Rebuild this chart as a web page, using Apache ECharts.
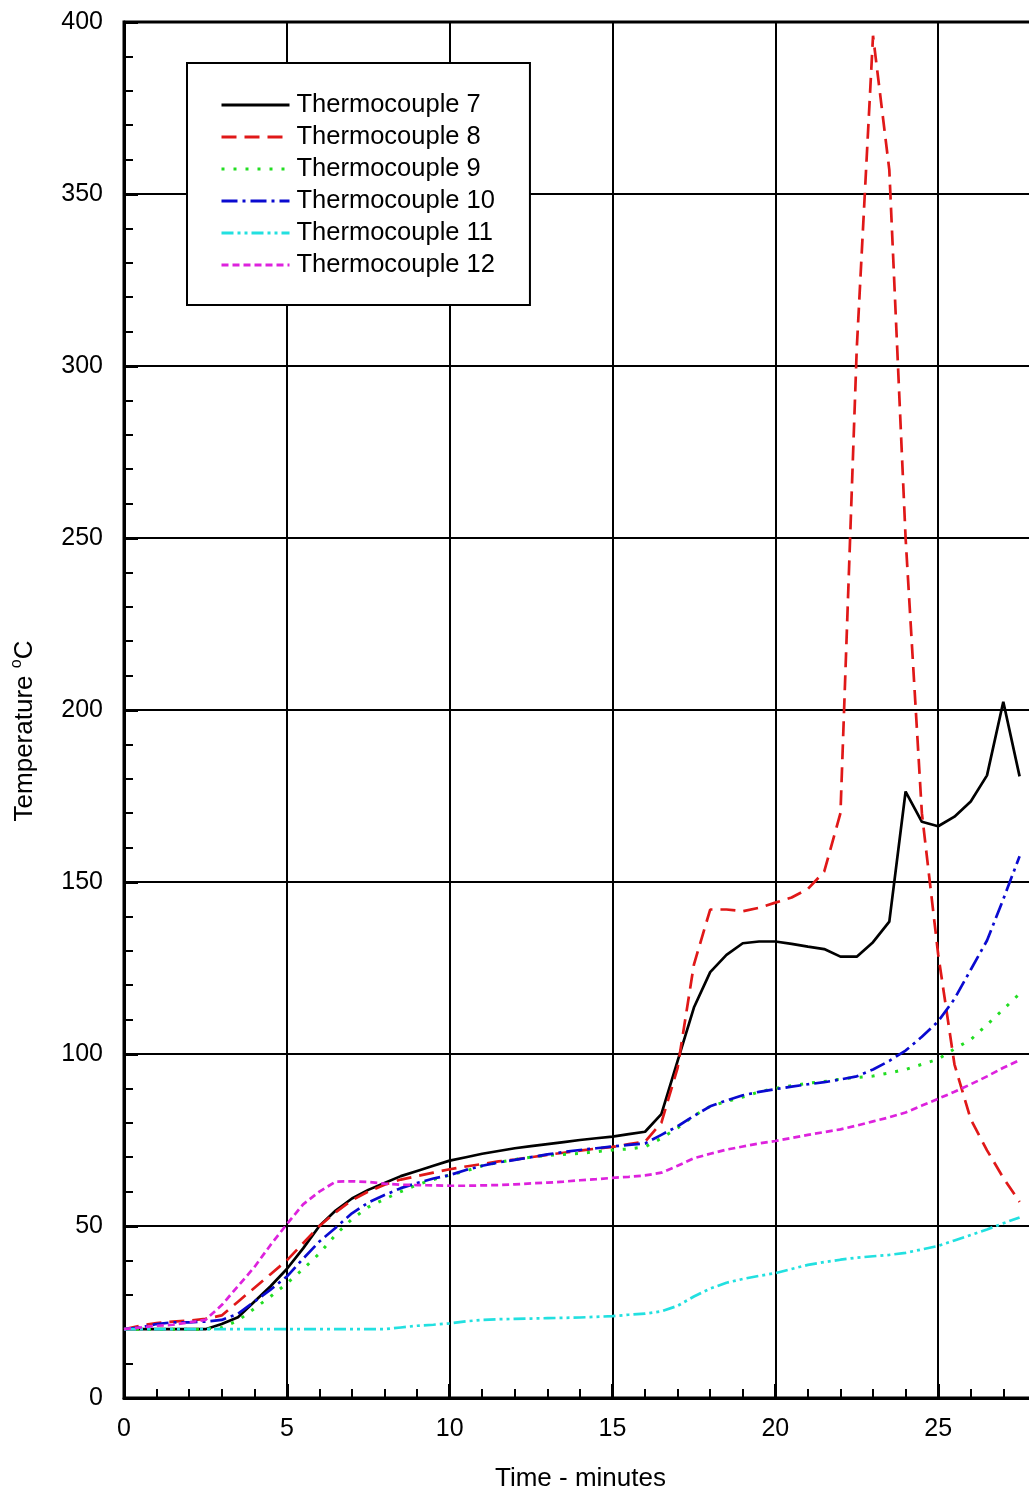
<!DOCTYPE html>
<html>
<head>
<meta charset="utf-8">
<script src="https://cdn.jsdelivr.net/npm/echarts@6/dist/echarts.min.js"></script>
<style>
  html, body { margin: 0; padding: 0; background: #fff; }
  #chart { width: 1029px; height: 1494px; }
</style>
</head>
<body>
<div id="chart"></div>
<script>
// Time in minutes (sample times)
const time = [0, 0.5, 1, 1.5, 2, 2.5, 3, 3.5, 4, 4.5, 5, 5.5, 6, 6.5, 7, 7.5, 8, 8.5, 9, 9.5,
  10, 10.5, 11, 11.5, 12, 12.5, 13, 13.5, 14, 14.5, 15, 15.5, 16, 16.5, 17, 17.5, 18, 18.5, 19, 19.5,
  20, 20.5, 21, 21.5, 22, 22.5, 23, 23.5, 24, 24.5, 25, 25.5, 26, 26.5, 27, 27.5];

const tc7 = [20, 20, 20, 20, 20, 20, 21.5, 23.5, 28, 32.5, 37.5, 43.5, 50, 54.5, 58, 60.5, 62.5, 64.5, 66, 67.5,
  69, 70, 71, 71.8, 72.6, 73.2, 73.8, 74.4, 75, 75.5, 76, 76.7, 77.4, 82.5, 98, 113.5, 123.8, 128.8, 132.2, 132.7,
  132.7, 132, 131.2, 130.5, 128.3, 128.3, 132.5, 138.5, 176.3, 167.5, 166.2, 169, 173.4, 181, 202.4, 180.7];

const tc8 = [20, 21, 21.8, 22.2, 22.5, 23, 24, 28, 32, 36, 40, 45, 50, 54, 57.5, 60, 62, 63.5, 64.5, 65.5,
  66.5, 67.3, 68, 68.8, 69.3, 70, 70.7, 71.3, 71.9, 72.5, 73, 73.8, 74.5, 80, 96, 126, 142, 142, 141.5, 142.5,
  144, 145.5, 148, 153, 170, 305, 396, 357, 250, 170, 129, 97, 81, 72, 64, 57];

const tc9 = [20, 20, 20, 20, 20, 20, 20.5, 22.5, 26, 29.5, 33.3, 37.5, 42, 47.5, 52, 55.5, 57.8, 60, 62, 63.5,
  64.8, 66, 67.5, 68.5, 69.3, 70, 70.5, 70.8, 71.1, 71.6, 72.1, 72.4, 73, 75.5, 78.5, 82, 84.8, 86.2, 87.5, 89,
  90, 90.8, 91.5, 92, 92.7, 93.2, 93.6, 94.5, 95.5, 97, 98.5, 101.5, 104.2, 108.5, 113, 117.5];

const tc10 = [20, 20.5, 21.5, 22, 22, 22.2, 22.7, 24.5, 28, 31.5, 35.3, 40.5, 45.5, 49.5, 53.7, 56.8, 59, 61, 62.5, 63.8,
  64.8, 66.3, 67.5, 68.5, 69.2, 70, 70.8, 71.5, 72.1, 72.6, 73.1, 73.6, 74, 76.5, 79, 82, 84.8, 86.5, 88, 89,
  89.8, 90.5, 91.2, 91.8, 92.6, 93.5, 95.5, 98, 101, 105, 109.5, 116, 124.5, 133, 145, 157.5];

const tc11 = [20, 20, 20, 20, 20, 20, 20, 20, 20, 20, 20, 20, 20, 20, 20, 20, 20, 20.5, 21, 21.3,
  21.7, 22.3, 22.7, 22.9, 23, 23.1, 23.2, 23.3, 23.4, 23.6, 23.8, 24.2, 24.5, 25.2, 26.8, 29.5, 31.8, 33.5, 34.6, 35.5,
  36.3, 37.5, 38.7, 39.5, 40.2, 40.8, 41.2, 41.6, 42.2, 43.2, 44.2, 45.8, 47.4, 49, 50.8, 52.5];

const tc12 = [20, 20.5, 21, 21.3, 22, 22.7, 27, 32.5, 38, 44.5, 50.5, 56.3, 60, 62.9, 63, 62.8, 62.3, 62, 61.9, 61.8,
  61.7, 61.7, 61.8, 61.9, 62.1, 62.4, 62.6, 62.9, 63.3, 63.6, 64, 64.3, 64.7, 65.5, 67.5, 69.7, 71, 72.2, 73.1, 74,
  74.7, 75.6, 76.5, 77.3, 78.1, 79.2, 80.4, 81.6, 83, 85, 87, 89, 91.2, 93.5, 96, 98.2];

const seriesNames = ['Thermocouple 7', 'Thermocouple 8', 'Thermocouple 9', 'Thermocouple 10', 'Thermocouple 11', 'Thermocouple 12'];
const seriesValues = [tc7, tc8, tc9, tc10, tc11, tc12];
const seriesColors = ['#000000', '#e01818', '#22dd22', '#0a0ad0', '#22e0e0', '#dd22dd'];
const seriesDash = ['solid', [15, 8], [3, 9], [16, 5, 3, 5], [12, 4, 3, 4, 3, 4], [7, 4]];
const seriesWidth = [2.7, 2.7, 3, 2.7, 2.7, 2.7];

const FONT = '"Liberation Sans", Arial, sans-serif';

const chart = echarts.init(document.getElementById('chart'), null, { renderer: 'canvas' });

const series = seriesNames.map((name, i) => ({
  name: name,
  type: 'line',
  symbol: 'none',
  showSymbol: false,
  animation: false,
  data: time.map((t, j) => [t, seriesValues[i][j]]),
  lineStyle: { color: seriesColors[i], width: seriesWidth[i], type: seriesDash[i] },
  itemStyle: { color: seriesColors[i] },
  z: 3
}));

chart.setOption({
  backgroundColor: '#ffffff',
  animation: false,
  grid: {
    left: 124, top: 22, bottom: 96, right: -72,
    containLabel: false,
    outerBoundsMode: 'none',
    show: true, borderColor: '#000', borderWidth: 3, backgroundColor: 'transparent'
  },
  legend: {
    show: true,
    orient: 'vertical',
    left: 187, top: 63,
    data: seriesNames,
    backgroundColor: '#ffffff',
    borderColor: '#000',
    borderWidth: 2,
    padding: [29, 35, 27, 33],
    itemWidth: 68,
    itemHeight: 14,
    itemGap: 6,
    itemStyle: { opacity: 0 },
    lineStyle: { width: 3 },
    textStyle: { fontSize: 25.5, fontFamily: FONT, color: '#000', lineHeight: 25, padding: [0, 0, 0, 2] },
    z: 10
  },
  xAxis: {
    type: 'value',
    min: 0, max: 30, interval: 5,
    name: 'Time - minutes',
    nameLocation: 'middle',
    nameGap: 68,
    nameTextStyle: { fontSize: 26, fontFamily: FONT, color: '#000', padding: [0, 64, 0, 0] },
    axisLine: { show: true, onZero: false, lineStyle: { color: '#000', width: 3 } },
    axisTick: { show: true, inside: true, length: 14, lineStyle: { color: '#000', width: 3 } },
    minorTick: { show: true, splitNumber: 5, length: 9, lineStyle: { color: '#000', width: 2 } },
    splitLine: { show: true, lineStyle: { color: '#000', width: 2 } },
    axisLabel: { fontSize: 25, fontFamily: FONT, color: '#000', margin: 19 }
  },
  yAxis: {
    type: 'value',
    min: 0, max: 400, interval: 50,
    name: '{t|Temperature }{s|o}{t|C}',
    nameLocation: 'middle',
    nameGap: 83,
    nameTextStyle: {
      fontFamily: FONT, color: '#000',
      padding: [0, 42, 0, 0],
      rich: {
        t: { fontSize: 26, fontFamily: FONT, color: '#000', lineHeight: 32 },
        s: { fontSize: 16, fontFamily: FONT, color: '#000', verticalAlign: 'top' }
      }
    },
    axisLine: { show: true, onZero: false, lineStyle: { color: '#000', width: 3 } },
    axisTick: { show: true, inside: true, length: 14, lineStyle: { color: '#000', width: 3 } },
    minorTick: { show: true, splitNumber: 5, length: 9, lineStyle: { color: '#000', width: 2 } },
    splitLine: { show: true, lineStyle: { color: '#000', width: 2 } },
    axisLabel: { fontSize: 25, fontFamily: FONT, color: '#000', margin: 21 }
  },
  series: series
});
</script>
</body>
</html>
